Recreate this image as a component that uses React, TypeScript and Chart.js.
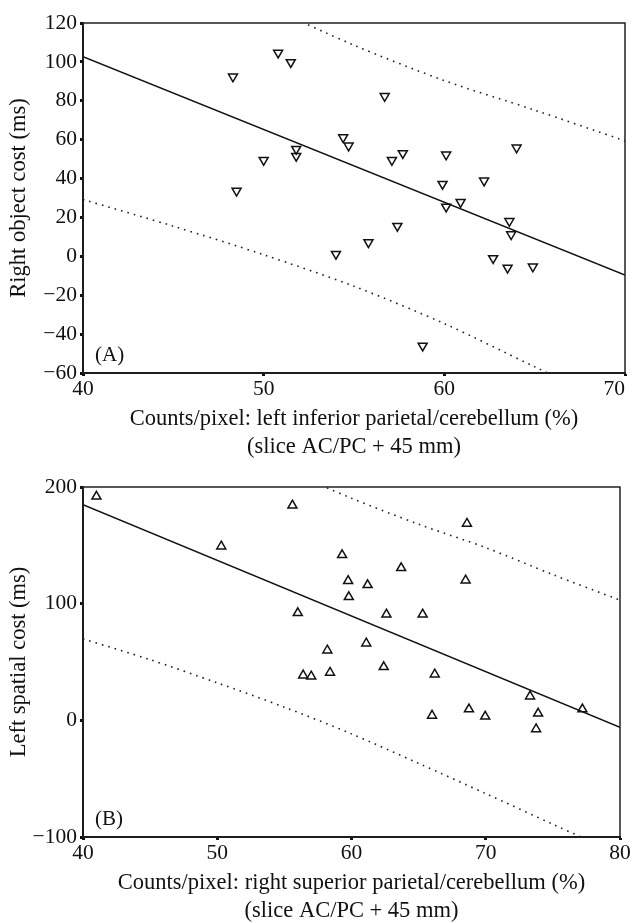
import React, { useEffect, useRef } from "react";
import { Chart, registerables } from "chart.js";

Chart.register(...registerables);

// ---------- Panel A data ----------
const xA = [48.3, 50.8, 51.5, 51.8, 51.8, 50.0, 48.5, 56.7, 54.4, 54.7, 57.1, 57.7, 60.1, 64.0, 59.9, 62.2, 60.1, 60.9, 63.6, 63.7, 57.4, 55.8, 54.0, 62.7, 63.5, 64.9, 58.8];
const yA = [92.4, 104.7, 99.8, 55.2, 51.6, 49.5, 33.7, 82.4, 61.2, 56.9, 49.5, 53.0, 52.3, 55.9, 37.2, 38.9, 25.5, 27.9, 18.1, 11.3, 15.6, 7.2, 1.2, -1.0, -5.9, -5.3, -46.0];
const fitXA = [40, 70];
const fitYA = [102.7, -9.6];
const bandXA = [40, 45, 50, 55, 60, 65, 70];
const upperA = [176, 152.5, 129.8, 108.6, 90.4, 75.2, 59.4];
const lowerA = [29.2, 15.5, 0.8, -15.4, -34.6, -56.8, -78.6];
const xTicksA = [40, 50, 60, 70];
const yTicksA = [-60, -40, -20, 0, 20, 40, 60, 80, 100, 120];

// ---------- Panel B data ----------
const xB = [41.0, 55.6, 50.3, 56.0, 56.4, 57.0, 68.6, 59.3, 63.7, 59.75, 61.2, 68.5, 59.8, 62.6, 65.3, 61.1, 58.2, 58.4, 62.4, 66.2, 73.3, 77.2, 66.0, 68.75, 69.96, 73.9, 73.75];
const yB = [191.9, 184.2, 149.1, 92.0, 38.6, 37.7, 168.6, 141.7, 130.6, 119.5, 116.0, 120.0, 105.7, 90.8, 90.8, 66.0, 60.0, 40.9, 45.7, 39.4, 20.6, 9.5, 4.1, 9.5, 3.3, 5.9, -7.5];
const fitXB = [40, 80];
const fitYB = [184.8, -6];
const bandXB = [40, 45, 50, 55, 60, 65, 70, 75, 80];
const upperB = [299.8, 270, 242.1, 215.3, 190.4, 168.1, 148, 124.9, 103];
const lowerB = [69.8, 52, 32.1, 11.3, -11.6, -36.9, -62.8, -89.1, -115];
const xTicksB = [40, 50, 60, 70, 80];
const yTicksB = [-100, 0, 100, 200];

const FONT = "'Liberation Serif', 'Times New Roman', serif";
const W = 634;
const H = 470;
const TITLE_SIZE = 22.5;
const TITLE_LH = 1.25;
const TICK_SIZE = 21.5;

const zip = (xs: number[], ys: number[]) => xs.map((x, i) => ({ x, y: ys[i] }));

type PanelCfg = {
  xs: number[]; ys: number[];
  fitX: number[]; fitY: number[];
  bandX: number[]; upper: number[]; lower: number[];
  xTicks: number[]; yTicks: number[];
  rotation: number;
  yTitle: string; xTitle: string[];
  label: string;
  area: { top: number; bottom: number; left: number; right: number };
};

const framePlugin = (cfg: PanelCfg) => ({
  id: "frame" + cfg.label,
  afterDatasetsDraw(chart: any) {
    const { ctx, chartArea } = chart;
    ctx.save();
    ctx.strokeStyle = "#222";
    ctx.lineWidth = 1.5;
    ctx.strokeRect(chartArea.left, chartArea.top, chartArea.right - chartArea.left, chartArea.bottom - chartArea.top);
    ctx.fillStyle = "#111";
    ctx.font = `21px ${FONT}`;
    ctx.textBaseline = "middle";
    ctx.textAlign = "left";
    ctx.fillText(cfg.label, chartArea.left + 12, chartArea.bottom - 18);
    ctx.restore();
  },
  afterDraw(chart: any) {
    // x tick labels: centred on the tick, kept inside the canvas at the right edge
    const { ctx } = chart;
    const sx = chart.scales.x;
    ctx.save();
    ctx.fillStyle = "#111";
    ctx.font = `${TICK_SIZE}px ${FONT}`;
    ctx.textBaseline = "top";
    cfg.xTicks.forEach((v) => {
      const px = sx.getPixelForValue(v);
      const txt = String(v);
      const w = ctx.measureText(txt).width;
      if (px + w / 2 > chart.width - 1) {
        ctx.textAlign = "right";
        ctx.fillText(txt, px, sx.top + 6);
      } else {
        ctx.textAlign = "center";
        ctx.fillText(txt, px, sx.top + 6);
      }
    });
    ctx.restore();
  },
});

function Panel({ cfg, top }: { cfg: PanelCfg; top: number }) {
  const ref = useRef<HTMLCanvasElement>(null);
  useEffect(() => {
    const a = cfg.area;
    const tickFont = { family: FONT, size: TICK_SIZE };
    const lh = TITLE_SIZE * TITLE_LH;
    const chart = new Chart(ref.current!, {
      type: "scatter",
      data: {
        datasets: [
          {
            data: zip(cfg.xs, cfg.ys),
            pointStyle: "triangle",
            rotation: cfg.rotation,
            pointRadius: 5.2,
            borderColor: "#111",
            backgroundColor: "rgba(255,255,255,0)",
            borderWidth: 1.5,
          },
          {
            data: zip(cfg.fitX, cfg.fitY),
            showLine: true,
            pointRadius: 0,
            borderColor: "#111",
            borderWidth: 1.5,
          },
          {
            data: zip(cfg.bandX, cfg.upper),
            showLine: true,
            pointRadius: 0,
            borderColor: "#222",
            borderWidth: 1.6,
            borderDash: [1.6, 5],
            tension: 0.3,
          },
          {
            data: zip(cfg.bandX, cfg.lower),
            showLine: true,
            pointRadius: 0,
            borderColor: "#222",
            borderWidth: 1.6,
            borderDash: [1.6, 5],
            tension: 0.3,
          },
        ],
      },
      options: {
        responsive: false,
        animation: false,
        devicePixelRatio: 1,
        layout: { padding: { top: a.top, right: W - a.right, left: 0, bottom: 0 } },
        plugins: { legend: { display: false }, tooltip: { enabled: false } },
        scales: {
          x: {
            type: "linear",
            min: cfg.xTicks[0],
            max: cfg.xTicks[cfg.xTicks.length - 1],
            afterBuildTicks: (s: any) => { s.ticks = cfg.xTicks.map((v) => ({ value: v })); },
            afterFit: (s: any) => { s.height = H - a.bottom; s.paddingLeft = 0; s.paddingRight = 0; },
            ticks: { display: false, font: tickFont },
            grid: { drawOnChartArea: false, tickLength: 3, tickWidth: 3, tickColor: "#111" },
            border: { display: true, color: "#111", width: 2 },
            title: {
              display: true,
              text: cfg.xTitle,
              font: { family: FONT, size: TITLE_SIZE, lineHeight: TITLE_LH },
              color: "#111",
              padding: { top: 0, bottom: H - (a.bottom + 74) - lh / 2 },
            },
          },
          y: {
            type: "linear",
            min: cfg.yTicks[0],
            max: cfg.yTicks[cfg.yTicks.length - 1],
            afterBuildTicks: (s: any) => { s.ticks = cfg.yTicks.map((v) => ({ value: v })); },
            afterFit: (s: any) => { s.width = a.left; s.paddingTop = 0; s.paddingBottom = 0; },
            ticks: {
              font: tickFont,
              color: "#111",
              padding: 3,
              callback: (v: any) => String(v).replace("-", "\u2212"),
            },
            grid: { drawOnChartArea: false, tickLength: 3, tickWidth: 3, tickColor: "#111" },
            border: { display: true, color: "#111", width: 2 },
            title: {
              display: true,
              text: cfg.yTitle,
              font: { family: FONT, size: TITLE_SIZE, lineHeight: 1.2 },
              color: "#111",
              padding: { top: 6, bottom: 0 },
            },
          },
        },
      },
      plugins: [framePlugin(cfg)],
    });
    return () => chart.destroy();
  }, [cfg]);
  return (
    <canvas
      ref={ref}
      width={W}
      height={H}
      style={{ position: "absolute", left: 0, top, width: W, height: H, display: "block" }}
    />
  );
}

const cfgA: PanelCfg = {
  xs: xA, ys: yA, fitX: fitXA, fitY: fitYA, bandX: bandXA, upper: upperA, lower: lowerA,
  xTicks: xTicksA, yTicks: yTicksA, rotation: 180,
  yTitle: "Right object cost (ms)",
  xTitle: ["Counts/pixel: left inferior parietal/cerebellum (%)", "(slice AC/PC + 45 mm)"],
  label: "(A)",
  area: { top: 23, bottom: 373, left: 83, right: 625 },
};

const cfgB: PanelCfg = {
  xs: xB, ys: yB, fitX: fitXB, fitY: fitYB, bandX: bandXB, upper: upperB, lower: lowerB,
  xTicks: xTicksB, yTicks: yTicksB, rotation: 0,
  yTitle: "Left spatial cost (ms)",
  xTitle: ["Counts/pixel: right superior parietal/cerebellum (%)", "(slice AC/PC + 45 mm)"],
  label: "(B)",
  area: { top: 17, bottom: 367, left: 83, right: 620 },
};

export default function App() {
  return (
    <div style={{ position: "fixed", left: 0, top: 0, width: W, height: 923, overflow: "hidden", background: "#fff" }}>
      <Panel cfg={cfgA} top={0} />
      <Panel cfg={cfgB} top={470} />
    </div>
  );
}
